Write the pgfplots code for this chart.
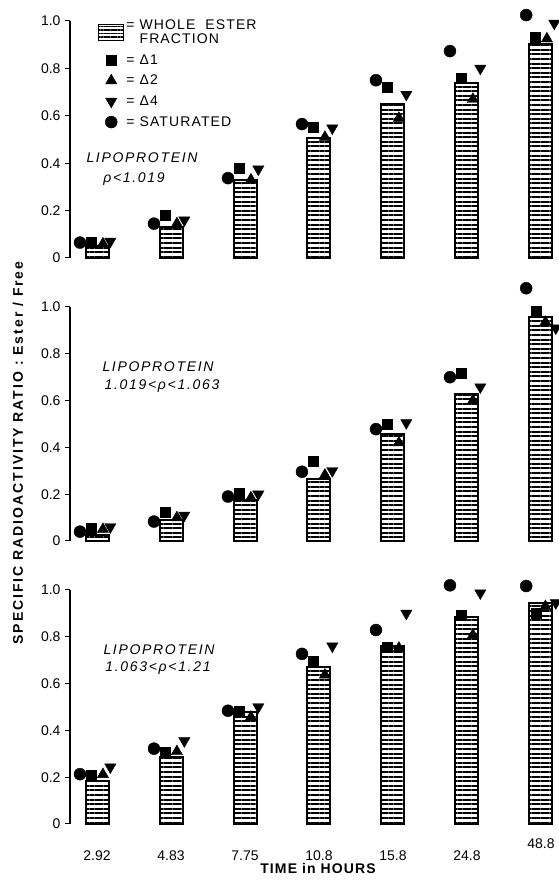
\documentclass[border=0pt]{standalone}
\usepackage{fontspec}
\setmainfont{Liberation Sans}
\newfontfamily\spA[LetterSpace=8]{Liberation Sans}
\newfontfamily\spB[LetterSpace=12]{Liberation Sans}
\newfontfamily\spY[LetterSpace=14]{Liberation Sans}
\usepackage{pgfplots}
\pgfplotsset{compat=1.18}
\usetikzlibrary{patterns.meta}

\pgfplotsset{
  panel/.style={
    scale only axis, width=488pt, xmin=-0.365, xmax=6.23, ymin=0, ymax=1,
    clip=false,
    axis lines*=left,
    x axis line style={draw=none},
    y axis line style={-, line width=1.2pt},
    xtick={0,...,6}, xtick style={draw=none},
    xticklabels={},
    ytick={0,0.2,0.4,0.6,0.8,1.0},
    yticklabels={0,0.2,0.4,0.6,0.8,1.0},
    tick align=outside, major tick length=5pt,
    ytick style={line width=1pt, black},
    tick label style={font=\fontsize{14}{16}\selectfont},
    yticklabel style={xshift=-1pt},
  },
  barsty/.style={ybar, bar width=23pt, draw=black, line width=2pt,
    pattern={Lines[angle=0,distance=4.6pt,line width=2pt]}},
  sq/.style={only marks, mark=square*, mark size=5pt, black},
  tu/.style={only marks, mark=triangle*, mark size=6.5pt, black},
  td/.style={only marks, mark=triangle*, mark size=6.5pt, mark options={rotate=180}, black},
  ci/.style={only marks, mark=*, mark size=6pt, black},
}
\newcommand\lab{\fontsize{14}{16}\selectfont}

\begin{document}
\begin{tikzpicture}[x=1pt,y=1pt]
\useasboundingbox (0,0) rectangle (558,887);

% ---------- panel 1 ----------
\begin{axis}[panel, height=237pt, at={(70pt,629pt)}, anchor=south west,
  legend style={at={(axis description cs:0.057,1.015)}, anchor=north west,
    draw=none, fill=none, inner sep=0pt, font=\fontsize{14}{14}\selectfont\spA,
    cells={anchor=west, align=left}, row sep=5.5pt}]
\addplot[barsty, legend image code/.code={\draw[line width=1.5pt, pattern={Lines[angle=0,distance=3.4pt,line width=1.4pt]}] (-4pt,-8pt) rectangle (21pt,8pt);}]
  coordinates {(0,0.05) (1,0.13) (2,0.33) (3,0.505) (4,0.65) (5,0.74) (6,0.905)};
\addlegendentry{= WHOLE\ \ ESTER\\\phantom{= }FRACTION}
\addplot[sq] coordinates {(-0.08,0.065) (0.92,0.18) (1.92,0.38) (2.92,0.553) (3.92,0.72) (4.92,0.76) (5.92,0.93)};
\addlegendentry{= Δ1}
\addplot[tu] coordinates {(0.08,0.06) (1.08,0.145) (2.08,0.33) (3.08,0.51) (4.08,0.59) (5.08,0.67) (6.08,0.925)};
\addlegendentry{= Δ2}
\addplot[td] coordinates {(0.18,0.07) (1.18,0.16) (2.18,0.375) (3.18,0.548) (4.18,0.69) (5.18,0.80) (6.18,0.99)};
\addlegendentry{= Δ4}
\addplot[ci] coordinates {(-0.23,0.065) (0.77,0.145) (1.77,0.337) (2.77,0.565) (3.77,0.75) (4.77,0.873) (5.8,1.025)};
\addlegendentry{= SATURATED}
\end{axis}

% ---------- panel 2 ----------
\begin{axis}[panel, height=234pt, at={(70pt,346pt)}, anchor=south west]
\addplot[barsty] coordinates {(0,0.025) (1,0.09) (2,0.175) (3,0.265) (4,0.457) (5,0.628) (6,0.957)};
\addplot[sq] coordinates {(-0.08,0.055) (0.92,0.125) (1.92,0.205) (2.92,0.339) (3.92,0.50) (4.92,0.717) (5.93,0.98)};
\addplot[tu] coordinates {(0.08,0.05) (1.08,0.10) (2.08,0.185) (3.08,0.282) (4.08,0.42) (5.08,0.60) (6.06,0.935)};
\addplot[td] coordinates {(0.18,0.06) (1.18,0.11) (2.18,0.20) (3.18,0.30) (4.18,0.505) (5.18,0.658) (6.2,0.91)};
\addplot[ci] coordinates {(-0.23,0.04) (0.77,0.083) (1.77,0.19) (2.77,0.296) (3.77,0.478) (4.77,0.70) (5.8,1.08)};
\end{axis}

% ---------- panel 3 ----------
\begin{axis}[panel, height=234pt, at={(70pt,63pt)}, anchor=south west,
  xticklabels={2.92,4.83,7.75,10.8,15.8,24.8,\raisebox{12pt}{48.8}},
  xticklabel style={anchor=base, yshift=-31pt}]
\addplot[barsty] coordinates {(0,0.185) (1,0.288) (2,0.48) (3,0.67) (4,0.76) (5,0.885) (6,0.945)};
\addplot[sq] coordinates {(-0.08,0.208) (0.92,0.305) (1.92,0.484) (2.92,0.697) (3.92,0.756) (4.92,0.893) (5.93,0.90)};
\addplot[tu] coordinates {(0.08,0.212) (1.08,0.31) (2.08,0.457) (3.08,0.637) (4.08,0.752) (5.08,0.808) (6.06,0.93)};
\addplot[td] coordinates {(0.18,0.243) (1.18,0.355) (2.18,0.50) (3.18,0.76) (4.18,0.90) (5.18,0.987) (6.2,0.945)};
\addplot[ci] coordinates {(-0.23,0.213) (0.77,0.322) (1.77,0.484) (2.77,0.727) (3.77,0.829) (4.77,1.02) (5.8,1.017)};
\end{axis}

% ---------- text ----------
\node[font=\lab\spB\itshape] at (142,{887-158}) {LIPOPROTEIN};
\node[font=\lab\spB\itshape] at (134,{887-179}) {ρ<1.019};
\node[font=\lab\spB\itshape] at (158,{887-367}) {LIPOPROTEIN};
\node[font=\lab\spB\itshape] at (162,{887-386}) {1.019<ρ<1.063};
\node[font=\lab\spB\itshape] at (159,{887-650}) {LIPOPROTEIN};
\node[font=\lab\spB\itshape] at (158,{887-668}) {1.063<ρ<1.21};
\node[font=\lab\spY\bfseries, rotate=90] at (18,{887-453}) {SPECIFIC RADIOACTIVITY RATIO : Ester / Free};
\node[font=\lab\spA\bfseries] at (318,{887-868}) {TIME in HOURS};
\end{tikzpicture}
\end{document}
